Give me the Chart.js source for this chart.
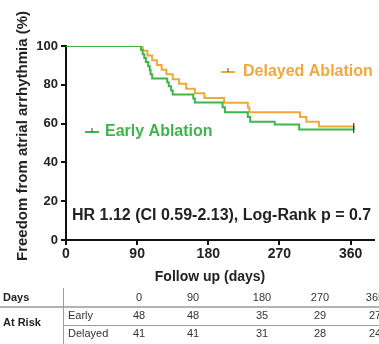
<!DOCTYPE html>
<html>
<head>
<meta charset="utf-8">
<script src="https://cdn.jsdelivr.net/npm/chart.js@4"></script>
<style>
  html, body { margin: 0; padding: 0; background: #fff; }
  #wrap { position: relative; width: 379px; height: 344px; }
</style>
</head>
<body>
<div id="wrap"><canvas id="km" width="379" height="344"></canvas></div>
<script>
// Kaplan-Meier estimates: event times (days) and survival (%)
const earlyDays = [0, 95, 97, 99, 101, 104, 106, 107, 109, 128, 130, 133, 135, 161, 163, 198, 201, 230, 233, 264, 295, 364];
const earlySurv = [100, 97.9, 95.8, 93.8, 91.7, 89.6, 87.5, 85.4, 83.3, 81.3, 79.2, 77.1, 75.0, 73.0, 70.9, 68.4, 65.9, 63.4, 61.0, 59.5, 57.0, 57.0];

const delayedDays = [0, 97, 103, 109, 115, 121, 127, 135, 143, 152, 163, 175, 200, 230, 232, 296, 304, 320, 364];
const delayedSurv = [100, 97.6, 95.1, 92.7, 90.2, 87.8, 85.4, 82.9, 80.5, 78.0, 75.6, 73.2, 70.7, 68.3, 65.9, 63.4, 61.0, 58.5, 58.5];

// Numbers-at-risk table
const riskDays = ['0', '90', '180', '270', '365'];
const riskEarly = [48, 48, 35, 29, 27];
const riskDelayed = [41, 41, 31, 28, 24];

const seriesNames = ['Early Ablation', 'Delayed Ablation'];
const statText = 'HR 1.12 (CI 0.59-2.13), Log-Rank p = 0.7';

const GREEN = '#3cb54a';
const ORANGE = '#f0a83a';
const FONT = '"Liberation Sans", Arial, sans-serif';

const toPoints = (xs, ys) => xs.map((x, i) => ({ x: x, y: ys[i] }));
const lastOnly = (n) => (ctx) => (ctx.dataIndex === n - 1 ? 3.5 : 0);

const annotations = {
  id: 'annotations',
  afterDraw(chart) {
    const c = chart.ctx;
    c.save();

    // y-axis title
    c.save();
    c.translate(23, 136);
    c.rotate(-Math.PI / 2);
    c.fillStyle = '#222';
    c.font = 'bold 15px ' + FONT;
    c.textAlign = 'center';
    c.textBaseline = 'middle';
    c.fillText('Freedom from atrial arrhythmia (%)', 0, 0);
    c.restore();

    // x-axis title
    c.fillStyle = '#222';
    c.font = 'bold 14px ' + FONT;
    c.textAlign = 'center';
    c.textBaseline = 'middle';
    c.fillText('Follow up (days)', 210, 277);

    // hazard ratio text
    c.textAlign = 'left';
    c.font = 'bold 16px ' + FONT;
    c.fillText(statText, 72, 216);

    // series labels with censor-mark key
    const key = (x, y, color) => {
      c.strokeStyle = color;
      c.lineWidth = 2;
      c.beginPath(); c.moveTo(x, y); c.lineTo(x + 14, y); c.stroke();
      c.strokeStyle = '#444';
      c.lineWidth = 1;
      c.beginPath(); c.moveTo(x + 7, y); c.lineTo(x + 7, y - 4); c.stroke();
    };
    key(85, 132, GREEN);
    c.fillStyle = GREEN;
    c.font = 'bold 16px ' + FONT;
    c.fillText(seriesNames[0], 105, 132);
    key(221, 72, ORANGE);
    c.fillStyle = ORANGE;
    c.fillText(seriesNames[1], 243, 72);

    // at-risk table
    const cols = [139, 193, 262, 320, 375];
    c.strokeStyle = '#9a9a9a';
    c.lineWidth = 1;
    c.beginPath(); c.moveTo(63.5, 288); c.lineTo(63.5, 344); c.stroke();
    c.lineWidth = 1.5;
    c.beginPath(); c.moveTo(0, 307); c.lineTo(379, 307); c.stroke();
    c.lineWidth = 1;
    c.beginPath(); c.moveTo(63, 325.5); c.lineTo(379, 325.5); c.stroke();

    c.fillStyle = '#222';
    c.font = 'bold 11px ' + FONT;
    c.textAlign = 'left';
    c.fillText('Days', 3, 298);
    c.fillText('At Risk', 3, 323);

    c.fillStyle = '#333';
    c.font = '11px ' + FONT;
    c.fillText('Early', 68, 316);
    c.fillText('Delayed', 68, 334);
    c.textAlign = 'center';
    riskDays.forEach((d, i) => {
      c.fillText(d, cols[i], 298);
      c.fillText(String(riskEarly[i]), cols[i], 316);
      c.fillText(String(riskDelayed[i]), cols[i], 334);
    });
    c.restore();
  }
};

new Chart(document.getElementById('km'), {
  type: 'line',
  data: {
    datasets: [
      {
        label: seriesNames[0],
        data: toPoints(earlyDays, earlySurv),
        borderColor: GREEN,
        borderWidth: 2,
        stepped: 'before',
        fill: false,
        pointStyle: 'line',
        rotation: 90,
        pointRadius: lastOnly(earlyDays.length),
        pointBorderColor: '#333',
        pointBorderWidth: 1.2,
        pointHoverRadius: 0
      },
      {
        label: seriesNames[1],
        data: toPoints(delayedDays, delayedSurv),
        borderColor: ORANGE,
        borderWidth: 2,
        stepped: 'before',
        fill: false,
        pointStyle: 'line',
        rotation: 90,
        pointRadius: lastOnly(delayedDays.length),
        pointBorderColor: '#333',
        pointBorderWidth: 1.2,
        pointHoverRadius: 0
      }
    ]
  },
  options: {
    responsive: false,
    animation: false,
    layout: { padding: { top: 46, right: 1, bottom: 64, left: 0 } },
    plugins: { legend: { display: false }, tooltip: { enabled: false } },
    scales: {
      x: {
        type: 'linear',
        min: 0,
        max: 390,
        afterFit(scale) { scale.height = 40; },
        afterBuildTicks(scale) {
          scale.ticks = [0, 90, 180, 270, 360].map(v => ({ value: v }));
        },
        border: { color: '#111', width: 2 },
        grid: { drawOnChartArea: false, drawTicks: true, tickLength: 5, color: '#111', lineWidth: 2 },
        ticks: { color: '#222', padding: 1, maxRotation: 0, font: { family: FONT, size: 14, weight: 'bold' } }
      },
      y: {
        min: 0,
        max: 100,
        afterFit(scale) { scale.width = 66; },
        border: { color: '#111', width: 2 },
        grid: { drawOnChartArea: false, drawTicks: true, tickLength: 5, color: '#111', lineWidth: 2 },
        ticks: { stepSize: 20, color: '#222', padding: 3, font: { family: FONT, size: 13, weight: 'bold' } }
      }
    }
  },
  plugins: [annotations]
});
</script>
</body>
</html>
